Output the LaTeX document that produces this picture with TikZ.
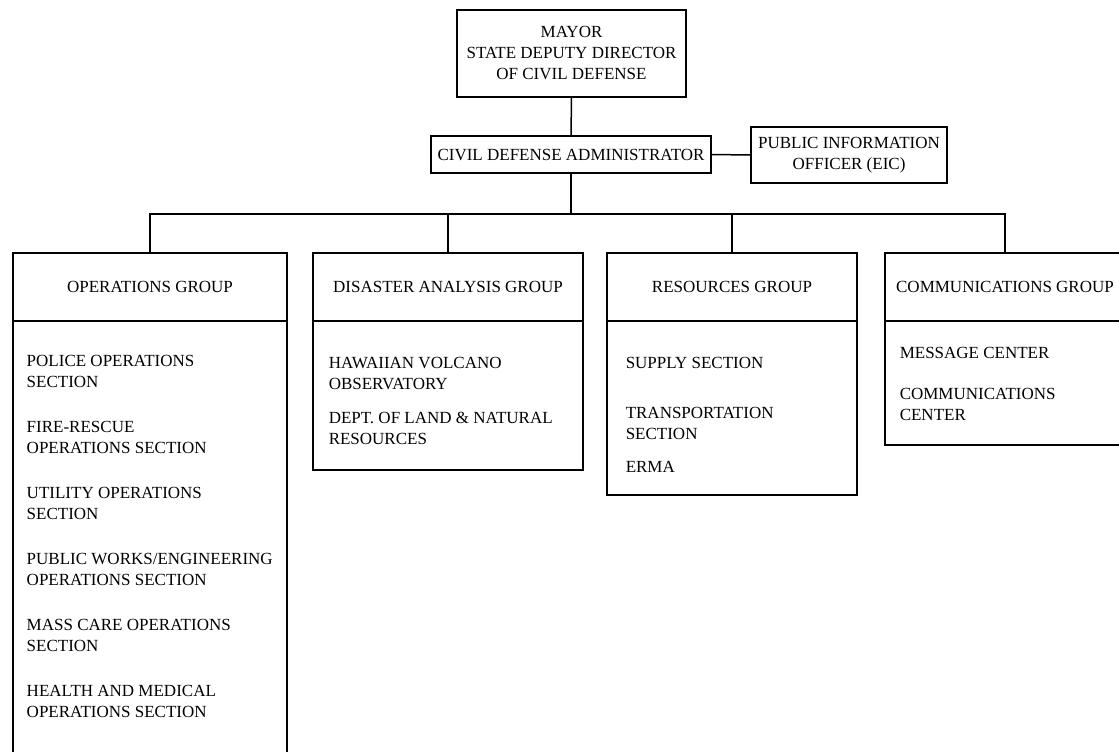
\documentclass[tikz,border=0pt]{standalone}
\usepackage{fontspec}
\setmainfont{Liberation Serif}
\newcommand{\orgfs}{\fontsize{17}{21}\selectfont}
\begin{document}
\begin{tikzpicture}[x=1pt,y=-1pt,line width=1.5pt,
  box/.style={draw,rectangle,inner sep=0pt,align=center,font=\orgfs},
  body/.style={draw,rectangle,inner sep=0pt},
  item/.style={inner sep=0pt,align=left,anchor=north west,font=\orgfs}]
\useasboundingbox (0,0) rectangle (1119,752);
% top
\node[box,minimum width=229pt,minimum height=87pt] (mayor) at (571.5,53.5) {MAYOR\\STATE DEPUTY DIRECTOR\\OF CIVIL DEFENSE};
\node[box,minimum width=280pt,minimum height=37pt] (cda) at (571,154.5) {CIVIL DEFENSE ADMINISTRATOR};
\node[box,minimum width=196pt,minimum height=56pt] (pio) at (849,155) {PUBLIC INFORMATION\\OFFICER (EIC)};
% group headers
\node[box,minimum width=274pt,minimum height=68pt] (opsh) at (150,287) {OPERATIONS GROUP};
\node[box,minimum width=270pt,minimum height=68pt] (dish) at (448,287) {DISASTER ANALYSIS GROUP};
\node[box,minimum width=250pt,minimum height=68pt] (resh) at (732,287) {RESOURCES GROUP};
\node[box,minimum width=240pt,minimum height=68pt] (comh) at (1005,287) {COMMUNICATIONS GROUP};
% group bodies
\node[body,minimum width=274pt,minimum height=439pt] (opsb) at (150,540.5) {};
\node[body,minimum width=270pt,minimum height=149pt] (disb) at (448,395.5) {};
\node[body,minimum width=250pt,minimum height=174pt] (resb) at (732,408) {};
\node[body,minimum width=240pt,minimum height=124pt] (comb) at (1005,383) {};
% connectors
\coordinate (bus) at (571,214);
\draw (mayor.south) -- (cda.north);
\draw (cda.east) -- (pio.west);
\draw (cda.south) -- (bus);
\draw (opsh.north) |- (bus) -| (comh.north);
\draw (dish.north) -- (dish.north |- bus);
\draw (resh.north) -- (resh.north |- bus);
% items
\node[item] (o1) at (26,354) {POLICE OPERATIONS\\SECTION};
\node[item] (o2) at (26,420) {FIRE-RESCUE\\OPERATIONS SECTION};
\node[item] (o3) at (26,486) {UTILITY OPERATIONS\\SECTION};
\node[item] (o4) at (26,552) {PUBLIC WORKS/ENGINEERING\\OPERATIONS SECTION};
\node[item] (o5) at (26,618) {MASS CARE OPERATIONS\\SECTION};
\node[item] (o6) at (26,684) {HEALTH AND MEDICAL\\OPERATIONS SECTION};
\node[item] (d1) at (328,356) {HAWAIIAN VOLCANO\\OBSERVATORY};
\node[item] (d2) at (328,411) {DEPT. OF LAND \& NATURAL\\RESOURCES};
\node[item] (r1) at (625,356) {SUPPLY SECTION};
\node[item] (r2) at (625,406) {TRANSPORTATION\\SECTION};
\node[item] (r3) at (625,461) {ERMA};
\node[item] (c1) at (899,346) {MESSAGE CENTER};
\node[item] (c2) at (899,387) {COMMUNICATIONS\\CENTER};
\end{tikzpicture}
\end{document}
